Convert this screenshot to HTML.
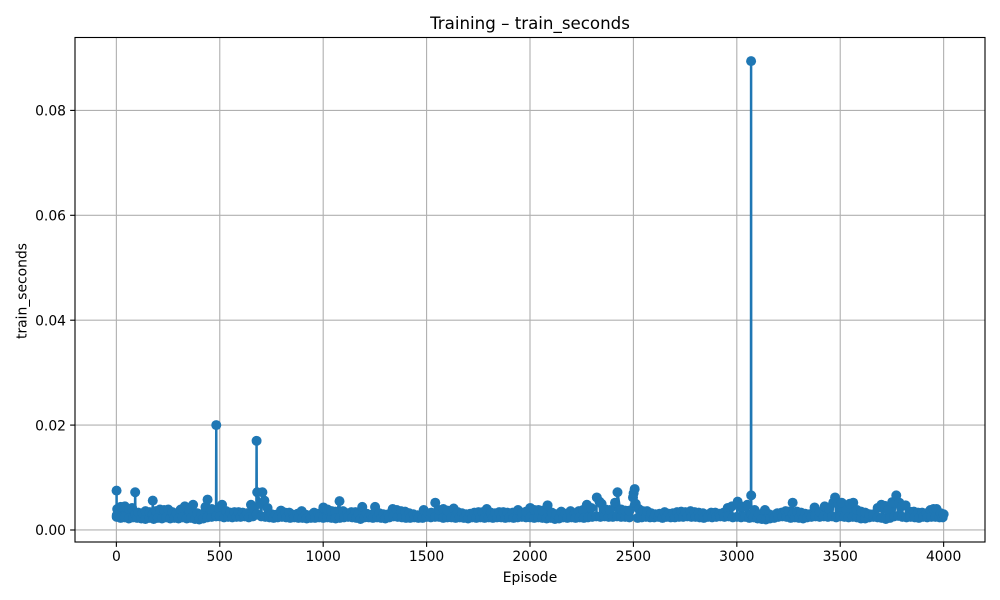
<!DOCTYPE html>
<html>
<head>
<meta charset="utf-8">
<title>Training – train_seconds</title>
<style>
html,body{margin:0;padding:0;background:#fff;}
svg{display:block;}
text{font-family:"DejaVu Sans","Liberation Sans",sans-serif;fill:#000;}
</style>
</head>
<body>
<svg id="chart" xmlns="http://www.w3.org/2000/svg" width="1000" height="600" viewBox="0 0 1000 600">
  <rect x="0" y="0" width="1000" height="600" fill="#fff"/>
  <g id="grid"></g>
  <polyline id="series-line" fill="none" stroke="#1f77b4" stroke-width="2.5" stroke-linejoin="round" stroke-linecap="butt"/>
  <g id="series-points" fill="#1f77b4"></g>
  <rect x="75" y="37.5" width="910" height="504.5" fill="none" stroke="#000" stroke-width="1.11"/>
  <g id="x-ticks"></g>
  <g id="y-ticks"></g>
  <text x="530" y="29" font-size="16.67" text-anchor="middle">Training – train_seconds</text>
  <text x="530" y="582" font-size="13.89" text-anchor="middle">Episode</text>
  <text x="0" y="0" font-size="13.89" text-anchor="middle" transform="translate(26.5 291) rotate(-90)">train_seconds</text>
</svg>
<script>
// Values. Seconds are stored in milliseconds.
const xTickLabels = [0, 500, 1000, 1500, 2000, 2500, 3000, 3500, 4000];
const yTickLabels = ["0.00", "0.02", "0.04", "0.06", "0.08"];
const yTickValues = [0, 0.02, 0.04, 0.06, 0.08];

const upperEpisodes = [1,2,4,21,41,61,76,90,91,92,106,126,141,161,175,176,177,191,211,231,251,271,291,311,331,351,371,391,411,431,441,461,482,483,484,496,511,531,551,571,591,611,631,651,666,677,678,679,681,696,706,716,731,751,771,796,816,836,856,876,896,916,936,956,976,1001,1021,1041,1059,1079,1096,1116,1136,1156,1171,1189,1211,1231,1251,1271,1291,1316,1336,1356,1376,1396,1416,1436,1456,1486,1506,1523,1542,1561,1581,1601,1631,1651,1671,1691,1711,1731,1751,1771,1791,1811,1831,1851,1871,1891,1916,1942,1961,1981,2001,2021,2041,2061,2085,2106,2126,2151,2171,2196,2216,2236,2256,2275,2296,2323,2336,2346,2366,2386,2411,2423,2441,2461,2481,2498,2501,2506,2511,2526,2546,2566,2586,2606,2626,2651,2671,2691,2711,2731,2751,2776,2796,2816,2836,2856,2876,2896,2916,2936,2956,2976,3004,3026,3051,3068.5,3069,3069.5,3070,3086,3106,3136,3156,3176,3196,3216,3236,3252,3269,3270,3271,3291,3311,3331,3351,3376,3401,3425,3446,3466,3475,3491,3507,3531,3546,3563,3581,3601,3621,3641,3661,3681,3699,3716,3731,3751,3771,3786,3801,3816,3836,3856,3876,3896,3916,3936,3951,3966,3986,4000];
const upperMs = [7.5,2.8,4.0,4.4,4.5,4.0,4.2,3,7.2,3,3.3,3.2,3.6,3.4,3,5.6,3,3.6,3.9,3.8,3.9,3.4,3.2,3.9,4.5,3.8,4.8,3.2,3.0,4.4,5.8,4.0,2.6,20,2.7,4.2,4.8,3.6,3.3,3.4,3.4,3.3,3.2,4.8,4.2,3,17,3,7.2,5,7.2,5.6,4.2,3.0,2.9,3.7,3.3,3.3,2.9,3.1,3.6,2.9,2.8,3.3,3.1,4.3,3.9,3.6,3.5,5.5,3.6,3.2,3.4,3.4,3.1,4.4,3.1,2.9,4.4,3.2,3.0,3.0,4.0,3.8,3.6,3.5,3.2,3.0,2.8,3.8,3.2,3.3,5.2,3.8,4.0,3.7,4.1,3.4,3.2,3.0,3.1,3.3,3.4,3.4,4.0,3.3,3.2,3.4,3.4,3.3,3.3,3.8,3.3,3.5,4.2,3.8,3.8,3.7,4.7,3.3,3.0,3.5,3.1,3.6,3.1,3.6,3.8,4.8,4.2,6.2,5.4,5.0,3.9,3.8,5.2,7.2,3.9,3.7,3.7,6.2,7.0,7.8,5.0,4.0,3.6,3.6,3.2,3.0,3.1,3.4,3.1,3.2,3.4,3.5,3.4,3.6,3.4,3.3,3.2,2.9,3.3,3.3,3.1,3.3,4.2,4.5,5.4,4.4,4.8,3,89.4,6.6,3,3.8,3.0,3.8,3.0,2.8,3.2,3.3,3.6,3.5,3,5.2,3,3.5,3.3,3.1,3.0,4.3,3.4,4.5,4.0,5.2,6.2,5.0,5.2,3.8,5.0,5.2,3.8,3.5,3.3,3.0,3.0,4.2,4.8,4.6,3.8,5.3,6.6,5.2,4.6,4.7,3.5,3.5,3.3,3.3,3.2,3.8,4.0,4.0,3.2,3.0];

const lowerEpisodes = [1,20,40,60,80,100,120,140,160,180,200,220,240,260,280,300,320,340,360,380,400,420,440,460,500,520,540,560,580,600,620,640,660,700,720,740,760,780,800,820,840,860,880,900,920,940,960,980,1000,1020,1040,1060,1080,1100,1120,1140,1160,1180,1200,1220,1240,1260,1280,1300,1320,1340,1360,1380,1400,1420,1440,1460,1480,1500,1520,1540,1560,1580,1600,1620,1640,1660,1680,1700,1720,1740,1760,1780,1800,1820,1840,1860,1880,1900,1920,1940,1960,1980,2000,2020,2040,2060,2080,2100,2120,2140,2160,2180,2200,2220,2240,2260,2280,2300,2320,2340,2360,2380,2400,2420,2440,2460,2480,2520,2540,2560,2580,2600,2620,2640,2660,2680,2700,2720,2740,2760,2780,2800,2820,2840,2860,2880,2900,2920,2940,2960,2980,3000,3020,3040,3060,3080,3100,3120,3140,3160,3180,3200,3220,3240,3260,3280,3300,3320,3340,3360,3380,3400,3420,3440,3460,3480,3500,3520,3540,3560,3580,3600,3620,3640,3660,3680,3700,3720,3740,3760,3780,3800,3820,3840,3860,3880,3900,3920,3940,3960,3980,3995];
const lowerMs = [2.5,2.3,2.4,2.2,2.4,2.3,2.2,2.1,2.3,2.1,2.3,2.2,2.4,2.2,2.3,2.2,2.4,2.2,2.3,2.1,2.0,2.2,2.4,2.5,2.6,2.4,2.5,2.4,2.5,2.5,2.6,2.4,2.6,2.6,2.5,2.4,2.3,2.4,2.5,2.4,2.3,2.4,2.3,2.3,2.2,2.3,2.3,2.4,2.3,2.4,2.3,2.2,2.3,2.4,2.5,2.4,2.3,2.1,2.4,2.4,2.3,2.4,2.3,2.2,2.4,2.6,2.5,2.4,2.3,2.3,2.4,2.3,2.3,2.5,2.4,2.5,2.5,2.3,2.4,2.4,2.3,2.4,2.3,2.2,2.4,2.3,2.4,2.3,2.4,2.3,2.4,2.4,2.3,2.4,2.3,2.4,2.5,2.4,2.4,2.3,2.4,2.3,2.2,2.3,2.1,2.2,2.4,2.3,2.4,2.3,2.4,2.3,2.4,2.5,2.6,2.5,2.6,2.5,2.5,2.6,2.5,2.5,2.4,2.3,2.4,2.5,2.4,2.4,2.5,2.3,2.5,2.4,2.4,2.5,2.5,2.6,2.5,2.5,2.4,2.3,2.5,2.4,2.5,2.6,2.5,2.6,2.4,2.5,2.4,2.5,2.3,2.4,2.2,2.1,2.0,2.2,2.3,2.5,2.6,2.5,2.3,2.4,2.3,2.2,2.4,2.5,2.6,2.5,2.6,2.5,2.6,2.4,2.6,2.5,2.4,2.5,2.4,2.2,2.2,2.4,2.5,2.4,2.3,2.1,2.3,2.6,2.7,2.5,2.4,2.5,2.4,2.3,2.5,2.4,2.5,2.5,2.4,2.4];

const xDomain = [-200, 4200];
const yDomain = [-0.00229, 0.0939];
const plotBox = { left: 75, right: 985, top: 37.5, bottom: 542 };
const markerRadius = 5;

function xScale(episode) {
  return plotBox.left + (episode - xDomain[0]) / (xDomain[1] - xDomain[0]) * (plotBox.right - plotBox.left);
}
function yScale(seconds) {
  return plotBox.bottom - (seconds - yDomain[0]) / (yDomain[1] - yDomain[0]) * (plotBox.bottom - plotBox.top);
}

const NS = "http://www.w3.org/2000/svg";
const grid = document.getElementById("grid");
const xTicks = document.getElementById("x-ticks");
const yTicks = document.getElementById("y-ticks");

function makeLine(x1, y1, x2, y2, color) {
  const l = document.createElementNS(NS, "line");
  l.setAttribute("x1", x1);
  l.setAttribute("y1", y1);
  l.setAttribute("x2", x2);
  l.setAttribute("y2", y2);
  l.setAttribute("stroke", color);
  l.setAttribute("stroke-width", "1.11");
  return l;
}

xTickLabels.forEach(function (v) {
  const x = xScale(v);
  const g = makeLine(x, plotBox.top, x, plotBox.bottom, "#b0b0b0");
  
  
  grid.appendChild(g);
  const t = makeLine(x, plotBox.bottom, x, plotBox.bottom + 4.86, "#000");
  
  
  xTicks.appendChild(t);
  const label = document.createElementNS(NS, "text");
  
  
  label.setAttribute("x", x);
  label.setAttribute("y", 561);
  label.setAttribute("font-size", "13.89");
  label.setAttribute("text-anchor", "middle");
  label.textContent = v;
  xTicks.appendChild(label);
});

yTickValues.forEach(function (v, i) {
  const y = yScale(v);
  const g = makeLine(plotBox.left, y, plotBox.right, y, "#b0b0b0");
  
  
  grid.appendChild(g);
  const t = makeLine(plotBox.left - 4.86, y, plotBox.left, y, "#000");
  
  
  yTicks.appendChild(t);
  const label = document.createElementNS(NS, "text");
  
  
  label.setAttribute("x", 66);
  label.setAttribute("y", y + 5.2);
  label.setAttribute("font-size", "13.89");
  label.setAttribute("text-anchor", "end");
  label.textContent = yTickLabels[i];
  yTicks.appendChild(label);
});

const merged = [];
upperEpisodes.forEach(function (e, i) { merged.push([e, upperMs[i] / 1000]); });
lowerEpisodes.forEach(function (e, i) { merged.push([e + 0.5, lowerMs[i] / 1000]); });
merged.sort(function (a, b) { return a[0] - b[0]; });

document.getElementById("series-line").setAttribute("points",
  merged.map(function (p) { return xScale(p[0]).toFixed(2) + "," + yScale(p[1]).toFixed(2); }).join(" "));

const pointsGroup = document.getElementById("series-points");
merged.forEach(function (p) {
  const c = document.createElementNS(NS, "circle");
  
  
  c.setAttribute("cx", xScale(p[0]).toFixed(2));
  c.setAttribute("cy", yScale(p[1]).toFixed(2));
  c.setAttribute("r", markerRadius);
  pointsGroup.appendChild(c);
});
</script>
</body>
</html>
